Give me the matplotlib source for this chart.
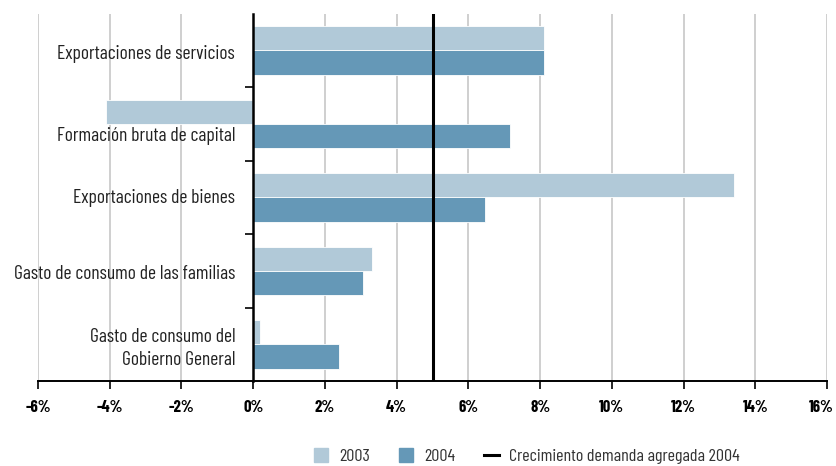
# Contribución al crecimiento de la demanda agregada
import numpy as np
import matplotlib
matplotlib.use('Agg')
import matplotlib.pyplot as plt
from matplotlib.patches import Patch
from matplotlib.lines import Line2D

plt.rcParams['font.family'] = ['Barlow Condensed', 'DejaVu Sans']

# datos
categorias = ["Exportaciones de servicios", "Formación bruta de capital",
              "Exportaciones de bienes", "Gasto de consumo de las familias",
              "Gasto de consumo del\nGobierno General"]
v2003 = [8.1, -4.1, 13.4, 3.3, 0.2]
v2004 = [8.1, 7.15, 6.45, 3.05, 2.4]
demanda_2004 = 5.0
xticks = [-6, -4, -2, 0, 2, 4, 6, 8, 10, 12, 14, 16]

c2003 = '#b1c9d8'
c2004 = '#6598b7'

fig = plt.figure(figsize=(8.37, 4.66), dpi=100)
ax = fig.add_axes([0.0454, 0.1824, 0.9427, 0.7886])

y = np.arange(len(categorias))
h = 0.33
ax.barh(y - h / 2, v2003, height=h, color=c2003, edgecolor='white', linewidth=0.6, zorder=2)
ax.barh(y + h / 2, v2004, height=h, color=c2004, edgecolor='white', linewidth=0.6, zorder=2)
ax.axvline(demanda_2004, color='black', linewidth=2.2, zorder=3)

ax.set_xlim(-6, 16)
ax.set_ylim(len(categorias) - 0.5, -0.5)
ax.set_xticks(xticks)
etiquetas_x = [f"{t}%" for t in xticks]
# la última etiqueta se dibuja aparte, algo corrida a la izquierda para que no se corte
ax.set_xticklabels(etiquetas_x[:-1] + [''], fontweight='bold', fontsize=12)
ax.annotate(etiquetas_x[-1], xy=(xticks[-1], 0), xycoords=('data', 'axes fraction'),
            xytext=(-4, -14), textcoords='offset points', ha='center', va='top',
            fontweight='bold', fontsize=12)
for t in xticks:
    if t != 0:
        ax.axvline(t, color='#cccccc', linewidth=1.3, zorder=0)

# etiquetas de categoría (la de FBK se baja para no tapar la barra negativa)
ax.set_yticks(np.arange(len(categorias) - 1) + 0.5)
ax.set_yticklabels([])
ax.tick_params(axis='y', length=6, width=1.2, direction='out')
desplaz = [-3, -9, -0.5, -2, -3]
for yi, cat, d in zip(y, categorias, desplaz):
    ax.annotate(cat, xy=(0, yi), xycoords='data', xytext=(-13, d), textcoords='offset points',
                ha='right', va='center', fontsize=14, color='#222222', linespacing=1.3)
ax.tick_params(axis='x', length=6, width=1.2, direction='out', pad=8)

for s in ['top', 'right']:
    ax.spines[s].set_visible(False)
ax.spines['left'].set_position(('data', 0))
ax.spines['left'].set_linewidth(1.8)
ax.spines['left'].set_zorder(4)
ax.spines['bottom'].set_linewidth(1.4)

handles = [Patch(color=c2003, label='2003'),
           Patch(color=c2004, label='2004'),
           Line2D([0], [0], color='black', linewidth=2.2, label='Crecimiento demanda agregada 2004')]
fig.legend(handles=handles, loc='center', bbox_to_anchor=(527 / 837, 1 - 456 / 466),
           ncol=3, frameon=False, handlelength=0.8, handleheight=0.8,
           columnspacing=1.6, handletextpad=0.6, labelcolor='#333333',
           prop={'size': 13}, borderpad=0.1)

fig.savefig('out.png', dpi=100)
